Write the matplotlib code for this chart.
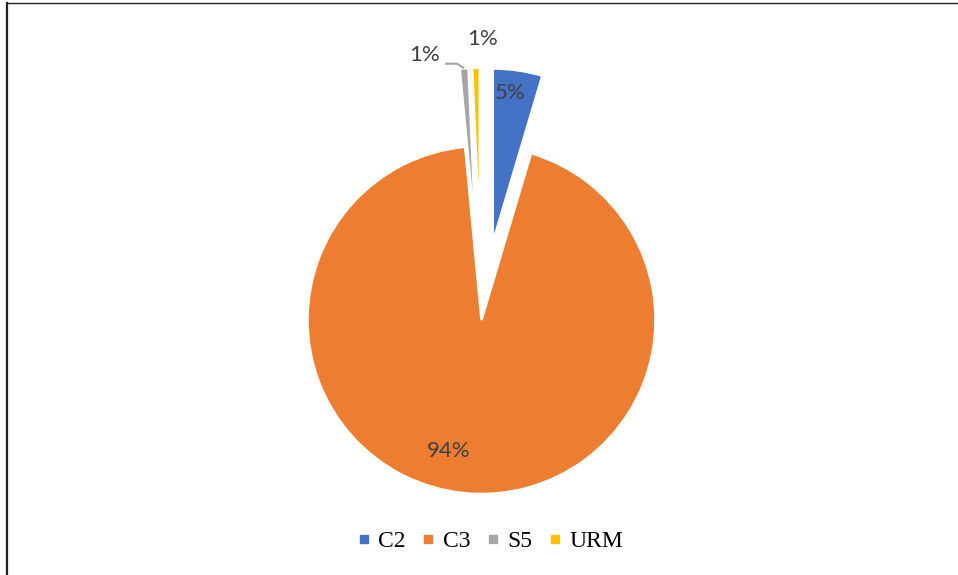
import numpy as np
import matplotlib
matplotlib.use("Agg")
import matplotlib.pyplot as plt
from matplotlib.lines import Line2D

# data
categories = ["C2", "C3", "S5", "URM"]
shares = [4.6, 93.9, 0.8, 0.7]          # percent
colors = ["#4472C4", "#ED7D31", "#A5A5A5", "#FFC000"]
explode = [0.45, 0.0, 0.45, 0.45]

# label placement (pie units, relative to pie centre)
label_pos = [(0.164, 1.305), (-0.187, -0.753), (-0.325, 1.523), (0.009, 1.615)]

W, H = 958, 575
cx, cy, R = 481.5, 320.0, 174.0   # pie centre / radius in pixels (from top)

fig = plt.figure(figsize=(W / 100, H / 100), dpi=100)
ax = fig.add_axes([0, 0, 1, 1])

wedges, _ = ax.pie(shares, colors=colors, explode=explode, startangle=90,
                   counterclock=False, radius=1.0,
                   wedgeprops=dict(edgecolor="white", linewidth=1.8))
ax.set_xlim(-cx / R, (W - cx) / R)
ax.set_ylim(-(H - cy) / R, cy / R)
ax.set_aspect("auto")
ax.axis("off")

label_font = dict(family=["Lato", "DejaVu Sans"], fontsize=16, color="#404040",
                  ha="center", va="center")
for val, (lx, ly) in zip(shares, label_pos):
    ax.text(lx, ly, f"{val:.0f}%", **label_font)

# leader line for the S5 label
w = wedges[2]
mid = np.deg2rad(0.5 * (w.theta1 + w.theta2))
tip = (w.center[0] + np.cos(mid) * w.r, w.center[1] + np.sin(mid) * w.r)
lx, ly = label_pos[2]
ax.plot([lx + 0.115, tip[0] - 0.04, tip[0]], [ly - 0.05, ly - 0.05, tip[1]],
        color="#A5A5A5", lw=1.5, solid_capstyle="butt")

handles = [Line2D([], [], marker="s", ls="none", color=c, markersize=5.5)
           for c in colors]
fig.legend(handles, categories, loc="center", bbox_to_anchor=(0.512, 0.059),
           ncol=4, frameon=False, handlelength=0.5, handletextpad=0.35,
           columnspacing=0.72,
           prop=dict(family="Liberation Serif", size=17))

# chart frame (left and top edges only)
fig.add_artist(Line2D([6.5 / W, 6.5 / W], [0, 1 - 3 / H], color="#222222",
                      lw=1.6, transform=fig.transFigure))
fig.add_artist(Line2D([6.5 / W, 1], [1 - 3 / H, 1 - 3 / H], color="#222222",
                      lw=1.0, transform=fig.transFigure))

fig.savefig("out.png", dpi=100)
